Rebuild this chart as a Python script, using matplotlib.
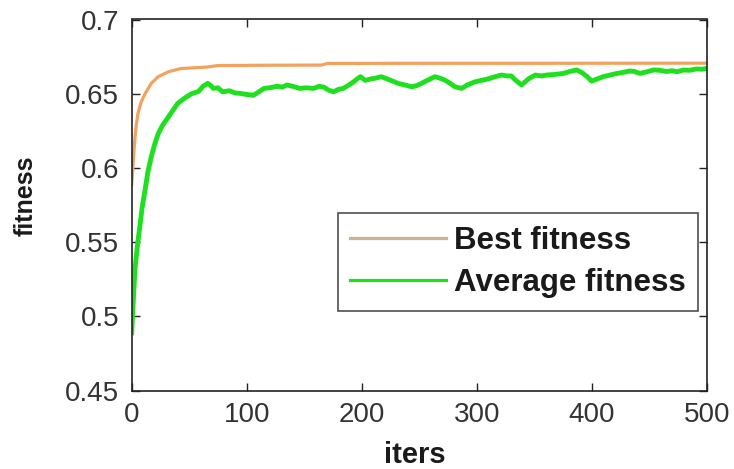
import matplotlib
matplotlib.use("Agg")
import matplotlib.pyplot as plt
from matplotlib.lines import Line2D

# Best fitness per generation
best_iters = [0, 1, 2, 3, 4, 5.5, 8, 11.6, 17, 23, 32, 43, 55, 66, 75, 120, 165, 170, 250, 350, 500]
best_vals = [0.589, 0.600, 0.612, 0.622, 0.629, 0.637, 0.644, 0.650, 0.657, 0.6615, 0.6648,
             0.667, 0.6675, 0.668, 0.669, 0.6692, 0.6693, 0.6704, 0.6705, 0.6705, 0.6706]

# Average fitness of the population per generation
avg_iters = [0, 1, 2, 3, 5, 7, 9, 11.6, 14, 17, 20, 23, 27, 32, 36, 40, 46, 52, 58, 62, 66,
             68, 71, 75, 79, 85, 90, 94, 100, 106, 110, 115, 120, 126, 131, 135, 140, 146,
             152, 158, 163, 167, 171, 175.5, 180, 184, 189, 193, 196, 199, 203, 208, 212,
             217, 222, 227, 231.5, 237, 243.5, 248, 252, 257, 263.7, 268, 272, 277, 281,
             287, 292, 298.5, 304, 310, 316, 321.7, 326, 330, 334, 339, 342, 345, 351, 356,
             361, 368, 375.5, 381, 387, 392, 396, 400, 405, 410, 416, 422, 428, 433, 437,
             442, 448, 453.6, 459, 465, 470, 474, 480, 485, 491, 496, 500]
avg_vals = [0.489, 0.505, 0.520, 0.533, 0.548, 0.560, 0.573, 0.585, 0.597, 0.6075, 0.616,
            0.623, 0.629, 0.6345, 0.639, 0.6435, 0.647, 0.650, 0.6515, 0.655, 0.657,
            0.656, 0.6536, 0.654, 0.6513, 0.652, 0.6505, 0.6503, 0.6495, 0.649, 0.651,
            0.6536, 0.654, 0.655, 0.6545, 0.6559, 0.655, 0.6536, 0.654, 0.6536, 0.655,
            0.6545, 0.6525, 0.6513, 0.653, 0.6536, 0.656, 0.658, 0.660, 0.6615, 0.659,
            0.660, 0.6605, 0.6615, 0.660, 0.6585, 0.657, 0.656, 0.6547, 0.6555, 0.657,
            0.659, 0.6615, 0.6605, 0.6593, 0.657, 0.6547, 0.6536, 0.656, 0.658, 0.659,
            0.660, 0.6615, 0.6626, 0.662, 0.662, 0.659, 0.6559, 0.658, 0.660, 0.6626,
            0.662, 0.6626, 0.663, 0.6637, 0.665, 0.666, 0.664, 0.6615, 0.6585, 0.660,
            0.6615, 0.6626, 0.6637, 0.6645, 0.6653, 0.665, 0.6637, 0.6648, 0.666, 0.6658,
            0.665, 0.6655, 0.6648, 0.666, 0.6658, 0.6667, 0.6665, 0.6671]

x_ticks = [0, 100, 200, 300, 400, 500]
x_tick_labels = ["0", "100", "200", "300", "400", "500"]
y_ticks = [0.45, 0.5, 0.55, 0.6, 0.65, 0.7]
y_tick_labels = ["0.45", "0.5", "0.55", "0.6", "0.65", "0.7"]
series_names = ["Best fitness", "Average fitness"]

BEST_COLOR = "#f2a25c"
BEST_LEGEND_COLOR = "#c9b48e"
AVG_COLOR = "#1fe01f"

plt.rcParams["font.family"] = ["Liberation Sans", "DejaVu Sans"]

W, H = 734, 469
fig = plt.figure(figsize=(W / 100, H / 100), dpi=100)
ax = fig.add_axes([131.7 / W, 1 - 390.7 / H, 575.0 / W, 371.2 / H])

ax.plot(best_iters, best_vals, color=BEST_COLOR, lw=2.3, solid_joinstyle="round")
ax.plot(avg_iters, avg_vals, color=AVG_COLOR, lw=3.5, solid_joinstyle="round")

ax.set_xlim(0, 500)
ax.set_ylim(0.45, 0.7)
ax.set_xticks(x_ticks)
ax.set_xticklabels(x_tick_labels)
ax.set_yticks(y_ticks)
ax.set_yticklabels(y_tick_labels)
ax.tick_params(direction="in", length=6, width=1.0, top=True, right=True,
               labelsize=20, labelcolor="#333333", colors="#222222")
ax.tick_params(axis="x", pad=8)
ax.tick_params(axis="y", pad=9)
for sp in ax.spines.values():
    sp.set_linewidth(1.2)
    sp.set_color("#222222")

fig.text(415 / W, 1 - 463 / H, "iters", ha="center", va="baseline",
         fontsize=21, fontweight="bold", color="#1a1a1a")
fig.text(26 / W, 1 - 196 / H, "fitness", ha="center", va="center", rotation=90,
         fontsize=18, fontweight="bold", color="#1a1a1a")

handles = [Line2D([], [], color=BEST_LEGEND_COLOR, lw=2.3),
           Line2D([], [], color=AVG_COLOR, lw=2.3)]
leg = ax.legend(handles, series_names, loc="upper right",
                bbox_to_anchor=(698 / W, 1 - 213 / H), bbox_transform=fig.transFigure,
                prop={"weight": "bold", "size": 22.5}, frameon=True, fancybox=False,
                handlelength=3.05, handletextpad=0.26, borderpad=0.4, labelspacing=0.4,
                borderaxespad=0.0)
leg.get_frame().set_edgecolor("#222222")
leg.get_frame().set_linewidth(1.2)
for t in leg.get_texts():
    t.set_color("#1a1a1a")

fig.savefig("out.png", dpi=100)
